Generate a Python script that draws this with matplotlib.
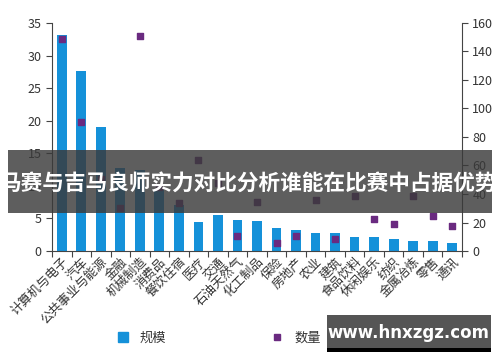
import matplotlib
matplotlib.use("Agg")
import matplotlib.pyplot as plt
from matplotlib.patches import Rectangle
from matplotlib.lines import Line2D
from matplotlib.ticker import FixedLocator
import numpy as np

plt.rcParams['font.family'] = ['Noto Sans CJK SC', 'DejaVu Sans']

categories = ["计算机与电子", "汽车", "公共事业与能源", "金融", "机械制造", "消费品", "餐饮住宿",
              "医疗", "交通", "石油天然气", "化工制品", "保险", "房地产", "农业", "建筑",
              "食品饮料", "休闲娱乐", "纺织", "金属冶炼", "零售", "通讯"]
scale = [33.2, 27.7, 19.0, 12.7, 12.4, 9.3, 7.1, 4.5, 5.5, 4.7, 4.6, 3.5, 3.3, 2.8, 2.8,
         2.2, 2.1, 1.8, 1.5, 1.5, 1.3]
count = [148.8, 90.7, 50.5, 30.4, 150.9, 45, 34, 63.5, 48, 10.7, 34.6, 5.5, 10.5, 35.8, 8.4,
         38.6, 22.5, 18.7, 38.6, 24.6, 17.8]
left_ticks = [0, 5, 10, 15, 20, 25, 30, 35]
right_ticks = [0, 20, 40, 60, 80, 100, 120, 140, 160]
title = "马赛与吉马良师实力对比分析谁能在比赛中占据优势"
watermark = "www.hnxzgz.com"

bar_color = '#1591D9'
pt_color = '#6A2A80'
txt = '#333333'

fig = plt.figure(figsize=(5, 3.62), dpi=100)
ax = fig.add_axes([0.104, 0.3066, 0.82, 0.63])
x = np.arange(len(categories))
ax.bar(x, scale, width=0.5, color=bar_color, zorder=2)
ax.set_xlim(-0.5, len(categories) - 0.5)
ax.set_ylim(0, 35)
ax.set_yticks(left_ticks)
ax.spines['top'].set_visible(False)
ax.spines['right'].set_visible(False)
for s in ['left', 'bottom']:
    ax.spines[s].set_color('#444444')
    ax.spines[s].set_linewidth(0.8)
ax.tick_params(axis='y', labelsize=9, colors='#444444', labelcolor=txt, length=4, width=0.8)
ax.set_xticks(x)
ax.set_xticklabels(categories, rotation=45, ha='right', rotation_mode='anchor',
                   fontsize=9, color=txt)
ax.tick_params(axis='x', which='major', length=0, pad=3)
ax.xaxis.set_minor_locator(FixedLocator(np.arange(-0.5, len(categories), 1.0)))
ax.tick_params(axis='x', which='minor', length=4, width=0.8, colors='#444444')

ax2 = ax.twinx()
ax2.scatter(x, count, marker='s', s=22, color=pt_color, zorder=3)
ax2.set_ylim(0, 160)
ax2.set_yticks(right_ticks)
ax2.spines['top'].set_visible(False)
ax2.spines['left'].set_visible(False)
ax2.spines['bottom'].set_visible(False)
ax2.spines['right'].set_color('#444444')
ax2.spines['right'].set_linewidth(0.8)
ax2.tick_params(axis='y', labelsize=9, colors='#444444', labelcolor=txt, length=4, width=0.8)

handles = [Line2D([], [], marker='s', linestyle='none', markersize=7, color=bar_color),
           Line2D([], [], marker='s', linestyle='none', markersize=5, color=pt_color)]
fig.legend(handles, ["规模", "数量（笔，右轴）"], loc='center', bbox_to_anchor=(0.51, 0.066),
           ncol=2, frameon=False, fontsize=9.5, columnspacing=7.4, handletextpad=0.3,
           labelcolor=txt)

# banner overlay
fig.patches.append(Rectangle((8 / 500, 1 - 213 / 362), 484 / 500, 63 / 362,
                             transform=fig.transFigure, facecolor='#3a3a3a', alpha=0.82,
                             edgecolor='none', zorder=10))
fig.text(0.497, 1 - 183 / 362, title, ha='center', va='center', color='white',
         fontsize=15.6, fontweight='bold', zorder=11)

# watermark
fig.patches.append(Rectangle((327 / 500, 1 - 352 / 362), 164 / 500, 37 / 362,
                             transform=fig.transFigure, facecolor='#555555',
                             edgecolor='none', zorder=10))
fig.patches.append(Rectangle((327 / 500, 1 - 352 / 362), 164 / 500, 4 / 362,
                             transform=fig.transFigure, facecolor='#000000',
                             edgecolor='none', zorder=10))
fig.text(408 / 500, 1 - 333 / 362, watermark, ha='center', va='center', color='white',
         fontsize=12, fontweight='bold', family=['DejaVu Sans'], zorder=11)

fig.savefig('out.png', dpi=100)
